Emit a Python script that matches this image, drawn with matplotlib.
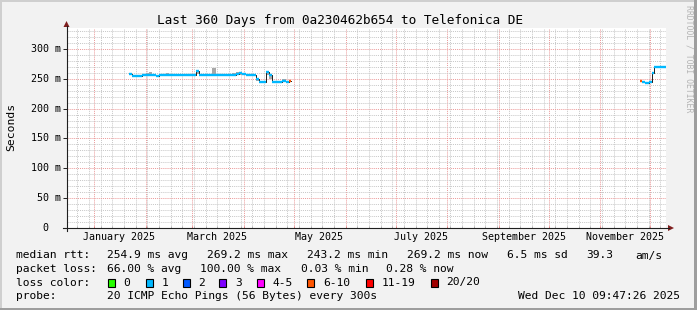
import matplotlib
matplotlib.use("Agg")
import matplotlib.pyplot as plt
import matplotlib.dates as mdates
import matplotlib.transforms as mtransforms
from matplotlib.ticker import MultipleLocator
from matplotlib.patches import Rectangle, Polygon
from matplotlib.lines import Line2D
import pandas as pd

plt.rcParams['font.family'] = ['DejaVu Sans Mono']
plt.rcParams['lines.scale_dashes'] = False

# ---------------- data ----------------
title = "Last 360 Days from 0a230462b654 to Telefonica DE"
y_label = "Seconds"
x_start = "2024-12-15 09:47:26"
x_end = "2025-12-10 09:47:26"
y_max = 335
y_ticks = [0, 50, 100, 150, 200, 250, 300]
y_tick_labels = ["  0", " 50 m", "100 m", "150 m", "200 m", "250 m", "300 m"]
x_label_dates = ["2025-01-16", "2025-03-16", "2025-05-16",
                 "2025-07-16", "2025-09-16", "2025-11-16"]
x_labels = ["January 2025", "March 2025", "May 2025",
            "July 2025", "September 2025", "November 2025"]

seg1_dates = (["2025-01-%02d" % d for d in (22, 24, 26, 28, 30)]
              + ["2025-02-%02d" % d for d in (1, 3, 5, 7, 9, 11, 13, 15, 17, 19, 21, 23, 25, 27)]
              + ["2025-03-%02d" % d for d in (1, 3, 5, 7, 9, 11, 13, 15, 17, 19, 21, 23, 25, 27, 29, 31)]
              + ["2025-04-%02d" % d for d in (2, 4, 6, 8, 10, 12, 14, 16, 18, 20, 22, 24, 26, 28)])
seg1_median = [258, 255, 255, 255, 256,
               256, 257, 256, 255, 256, 257, 256, 256, 257, 256, 257, 257, 257, 257,
               257, 263, 256, 257, 256, 257, 257, 257, 257, 257, 257, 257, 257, 258, 259, 258,
               257, 257, 256, 249, 245, 245, 262, 256, 245, 245, 245, 246, 245, 247]
seg1_smoke_hi = [259, 257, 256, 256, 258,
                 260, 261, 258, 257, 257, 258, 259, 257, 258, 257, 258, 258, 258, 258,
                 258, 264, 257, 258, 258, 258, 268, 258, 258, 258, 258, 258, 259, 262, 261, 260,
                 258, 258, 257, 252, 246, 246, 263, 257, 247, 246, 247, 250, 246, 248]
seg1_smoke_lo = [257, 254, 254, 254, 255,
                 255, 256, 255, 254, 255, 256, 255, 255, 256, 255, 256, 256, 256, 256,
                 256, 258, 255, 256, 255, 256, 256, 256, 256, 256, 256, 256, 256, 257, 257, 257,
                 256, 256, 255, 246, 244, 244, 256, 250, 244, 244, 244, 245, 244, 246]
seg1_loss = ["1"] * 48 + ["6-10"]
seg1_end = "2025-04-29"

seg2_dates = ["2025-11-25", "2025-11-26", "2025-11-28", "2025-11-30", "2025-12-02", "2025-12-03"]
seg2_median = [246, 244, 243, 245, 260, 269]
seg2_smoke_hi = [247, 245, 244, 246, 262, 270]
seg2_smoke_lo = [245, 243, 242, 244, 258, 268]
seg2_loss = ["6-10", "1", "1", "1", "1", "1"]
seg2_end = "2025-12-10 09:47:26"

loss_labels = ["0", "1", "2", "3", "4-5", "6-10", "11-19", "20/20"]
loss_colors = ["#26ff00", "#00b8ff", "#0059ff", "#7e00ff",
               "#ff00ff", "#ff5500", "#ff0000", "#a10000"]

stats_rtt = ["median rtt:", "254.9 ms avg", "269.2 ms max", "243.2 ms min",
             "269.2 ms now", "6.5 ms sd", "39.3", "am/s"]
stats_loss = ["packet loss:", "66.00 % avg", "100.00 % max", "0.03 % min", "0.28 % now"]
probe_text = ["probe:", "20 ICMP Echo Pings (56 Bytes) every 300s"]
timestamp = "Wed Dec 10 09:47:26 2025"
watermark = "RRDTOOL / TOBI OETIKER"

# ---------------- figure ----------------
W, H = 697, 310
fig = plt.figure(figsize=(W / 100, H / 100), dpi=100, facecolor="#f2f2f2")

def fx(px):
    return px / W

def fy(py):
    return 1 - py / H

# frame shades
fig.add_artist(Rectangle((0, fy(2)), 1, 2 / H, transform=fig.transFigure, color="#cfcfcf", lw=0))
fig.add_artist(Rectangle((0, 0), 2 / W, 1, transform=fig.transFigure, color="#cfcfcf", lw=0))
fig.add_artist(Rectangle((0, 0), 1, 2 / H, transform=fig.transFigure, color="#9e9e9e", lw=0))
fig.add_artist(Rectangle((fx(W - 3), 0), 3 / W, 1, transform=fig.transFigure, color="#9e9e9e", lw=0))

ax = fig.add_axes([fx(66.5), fy(228), fx(666) - fx(66.5), fy(28) - fy(228)])
ax.set_facecolor("white")

t0 = mdates.date2num(pd.Timestamp(x_start).to_pydatetime())
t1 = mdates.date2num(pd.Timestamp(x_end).to_pydatetime())
ax.set_xlim(t0, t1)
ax.set_ylim(0, y_max)

ax.xaxis.set_major_locator(mdates.MonthLocator())
ax.xaxis.set_minor_locator(mdates.WeekdayLocator(byweekday=mdates.SU))
ax.yaxis.set_major_locator(MultipleLocator(50))
ax.yaxis.set_minor_locator(MultipleLocator(10))

ax.grid(which="minor", color="#c8c8c8", lw=0.7, linestyle=(0, (0.75, 0.75)))
ax.grid(which="major", color="#eb9a9a", lw=0.7, linestyle=(0, (0.75, 0.75)))
ax.set_axisbelow(True)

ax.tick_params(axis="x", which="major", direction="in", length=1.5, width=0.7,
               color="#e08080", labelbottom=False)
ax.tick_params(axis="x", which="minor", direction="in", length=1.5, width=0.7,
               color="#b0b0b0")
ax.tick_params(axis="y", which="major", direction="out", length=3, width=0.7,
               color="#1f1f1f", labelleft=False)
ax.tick_params(axis="y", which="minor", length=0)
for s in ax.spines.values():
    s.set_visible(False)


def draw_segment(dates, median, lo, hi, loss, end):
    xs = [mdates.date2num(pd.Timestamp(d).to_pydatetime()) for d in dates]
    xe = mdates.date2num(pd.Timestamp(end).to_pydatetime())
    x_ext = xs + [xe]
    ax.fill_between(x_ext, lo + [lo[-1]], hi + [hi[-1]], step="post",
                    color="#a8a8a8", lw=0, zorder=2)
    ax.plot(x_ext, median + [median[-1]], drawstyle="steps-post",
            color="#1f1f1f", lw=0.7, zorder=3)
    cols = [loss_colors[loss_labels.index(l)] for l in loss]
    ax.hlines(median, xs, x_ext[1:], colors=cols, lw=1.7, zorder=4)


draw_segment(seg1_dates, seg1_median, seg1_smoke_lo, seg1_smoke_hi, seg1_loss, seg1_end)
draw_segment(seg2_dates, seg2_median, seg2_smoke_lo, seg2_smoke_hi, seg2_loss, seg2_end)

# axes lines and arrows
axis_col = "#1f1f1f"
arrow_col = "#801f1f"
fig.add_artist(Line2D([fx(66.5), fx(66.5)], [fy(231), fy(26)], transform=fig.transFigure,
                      color=axis_col, lw=0.8))
fig.add_artist(Line2D([fx(63), fx(669)], [fy(228), fy(228)], transform=fig.transFigure,
                      color=axis_col, lw=0.8))
fig.add_artist(Polygon([(fx(63.5), fy(27)), (fx(69.5), fy(27)), (fx(66.5), fy(21))],
                       closed=True, transform=fig.transFigure, color=arrow_col, lw=0))
fig.add_artist(Polygon([(fx(668), fy(225)), (fx(668), fy(231)), (fx(674), fy(228))],
                       closed=True, transform=fig.transFigure, color=arrow_col, lw=0))

# y tick labels
ytr = mtransforms.blended_transform_factory(fig.transFigure, ax.transData)
for v, lab in zip(y_ticks, y_tick_labels):
    fig.text(fx(30.5), v, lab, transform=ytr, ha="left", va="center",
             fontsize=7.2, color="black")

# x tick labels
xtr = mtransforms.blended_transform_factory(ax.transData, fig.transFigure)
for d, lab in zip(x_label_dates, x_labels):
    xv = mdates.date2num(pd.Timestamp(d).to_pydatetime())
    fig.text(xv, fy(240.5), lab, transform=xtr, ha="center", va="baseline",
             fontsize=7.2, color="black")

# title, y label, watermark
fig.text(fx(340), fy(24), title, ha="center", va="baseline", fontsize=9.2, color="black")
fig.text(fx(11), fy(127), y_label, ha="center", va="center", rotation=90,
         fontsize=8.2, color="black")
fig.text(fx(688.5), fy(5), watermark, ha="center", va="top", rotation=-90,
         fontsize=5.9, color="#b4b4b4")

# legend / stats
FS = 8.1
rtt_x = [16, 107, 207, 307, 407, 507, 586, 635]
for s, x in zip(stats_rtt, rtt_x):
    fig.text(fx(x), fy(258.5), s, ha="left", va="baseline", fontsize=FS)
loss_x = [16, 107, 200, 301, 386]
for s, x in zip(stats_loss, loss_x):
    fig.text(fx(x), fy(272), s, ha="left", va="baseline", fontsize=FS)

fig.text(fx(16), fy(285.5), "loss color:", ha="left", va="baseline", fontsize=FS)
box_x = [108, 145.7, 182.7, 219.3, 256.7, 307.3, 365.7, 431]
for lab, col, bx in zip(loss_labels, loss_colors, box_x):
    fig.add_artist(Rectangle((fx(bx), fy(286.5)), 7 / W, 8 / H, transform=fig.transFigure,
                             facecolor=col, edgecolor="black", lw=0.8))
    fig.text(fx(bx + 15.5), fy(285.5), lab, ha="left", va="baseline", fontsize=FS)

fig.text(fx(16), fy(299), probe_text[0], ha="left", va="baseline", fontsize=FS)
fig.text(fx(107), fy(299), probe_text[1], ha="left", va="baseline", fontsize=FS)
fig.text(fx(680.5), fy(299), timestamp, ha="right", va="baseline", fontsize=FS)

fig.savefig("out.png", dpi=100, facecolor=fig.get_facecolor())
